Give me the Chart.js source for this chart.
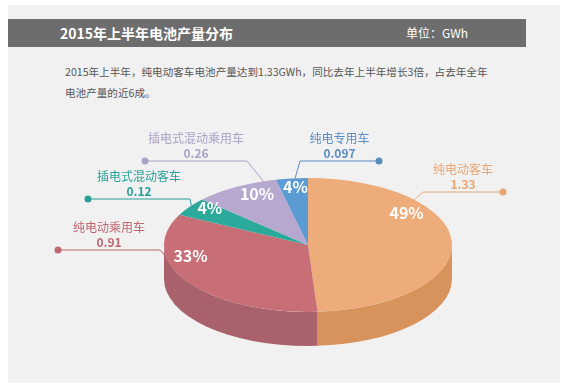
<!DOCTYPE html>
<html>
<head>
<meta charset="utf-8">
<script src="https://cdn.jsdelivr.net/npm/chart.js@4"></script>
<style>
  body { margin: 0; background: #fff; font-family: "Noto Sans CJK SC", "Noto Sans", sans-serif; }
  .panel { position: absolute; left: 8px; top: 5px; width: 552px; height: 378px; background: #f1f1f1; }
  .titlebar { position: absolute; left: 8px; top: 19px; width: 518px; height: 28px; background: #6d6d6d; color: #fff; }
  .titlebar .title { position: absolute; left: 52px; top: 0; line-height: 28px; font-size: 14px; font-weight: bold; }
  .titlebar .unit { position: absolute; right: 58px; top: 0; line-height: 28px; font-size: 12px; }
  .desc { position: absolute; left: 65px; top: 61px; font-size: 10.6px; line-height: 21px; color: #555; white-space: nowrap; }
  #chart { position: absolute; left: 0; top: 0; }
</style>
</head>
<body>
<div class="panel"></div>
<div class="titlebar">
  <span class="title">2015年上半年电池产量分布</span>
  <span class="unit">单位：GWh</span>
</div>
<div class="desc">2015年上半年，纯电动客车电池产量达到1.33GWh，同比去年上半年增长3倍，占去年全年<br>电池产量的近6成。</div>
<canvas id="chart" width="567" height="392"></canvas>

<script>
const categories = ["纯电动客车", "纯电动乘用车", "插电式混动客车", "插电式混动乘用车", "纯电专用车"];
const values = [1.33, 0.91, 0.12, 0.26, 0.097];
const valueLabels = ["1.33", "0.91", "0.12", "0.26", "0.097"];
const percentLabels = ["49%", "33%", "4%", "10%", "4%"];

const topColors = ["#edac79", "#c76e76", "#2ba99b", "#b7a8cf", "#5b9bd3"];
const sideColors = ["#d8925b", "#a9616b", "#218a7f", "#9788b1", "#4a80b0"];
const labelColors = ["#e8a676", "#c0666f", "#2aa198", "#aba2c6", "#5a8dc2"];

const SQUASH = 67 / 144; // ellipse height / width
const DEPTH = 34;
const FONT = "'Noto Sans CJK SC', 'Noto Sans', sans-serif";

// leader lines: t = where on the slice edge it starts, then elbow and dot
const callouts = [
  { t: 0.27, lineY: 192, elbowX: 423, dotX: 503 },
  { t: 0.69, lineY: 250, elbowX: 160, dotX: 58 },
  { t: 0.57, lineY: 199, elbowX: 190, dotX: 88 },
  { t: 0.85, lineY: 161, elbowX: 247, dotX: 145 },
  { t: 0.6, lineY: 161, elbowX: 300, dotX: 379 },
];
const pctNudge = [[-5, -20], [-31, -6], [-13, 0], [1, 1], [-1, 0]];

const pie3d = {
  id: "pie3d",
  beforeDatasetsDraw(chart) {
    const ctx = chart.ctx;
    const meta = chart.getDatasetMeta(0);
    const { x: cx, y: cy, outerRadius: r } = meta.data[0].getProps(["x", "y", "outerRadius"], true);
    const ry = r * SQUASH;

    // side wall, only the front half is visible
    meta.data.forEach((arc, i) => {
      const { startAngle, endAngle } = arc.getProps(["startAngle", "endAngle"], true);
      const a = Math.max(startAngle, 0);
      const b = Math.min(endAngle, Math.PI);
      if (b <= a) return;
      ctx.beginPath();
      ctx.ellipse(cx, cy, r, ry, 0, a, b);
      ctx.ellipse(cx, cy + DEPTH, r, ry, 0, b, a, true);
      ctx.closePath();
      ctx.fillStyle = sideColors[i];
      ctx.fill();
    });

    // squash the top face
    ctx.save();
    ctx.translate(cx, cy);
    ctx.scale(1, SQUASH);
    ctx.translate(-cx, -cy);
  },
  afterDatasetsDraw(chart) {
    const ctx = chart.ctx;
    ctx.restore();

    const meta = chart.getDatasetMeta(0);
    const { x: cx, y: cy, outerRadius: r } = meta.data[0].getProps(["x", "y", "outerRadius"], true);
    const ry = r * SQUASH;

    meta.data.forEach((arc, i) => {
      const { startAngle, endAngle } = arc.getProps(["startAngle", "endAngle"], true);

      // percent on the slice
      const mid = (startAngle + endAngle) / 2;
      const px = cx + 0.72 * r * Math.cos(mid) + pctNudge[i][0];
      const py = cy - 10 + 0.72 * ry * Math.sin(mid) + pctNudge[i][1];
      ctx.font = "bold 16px " + FONT;
      ctx.fillStyle = "#fff";
      ctx.textAlign = "center";
      ctx.textBaseline = "middle";
      ctx.fillText(percentLabels[i], px, py);

      // leader line + dot
      const c = callouts[i];
      const ang = startAngle + c.t * (endAngle - startAngle);
      const sx = cx + r * Math.cos(ang);
      const sy = cy + ry * Math.sin(ang);
      ctx.strokeStyle = labelColors[i];
      ctx.lineWidth = 1;
      ctx.beginPath();
      ctx.moveTo(sx, sy);
      ctx.lineTo(c.elbowX, c.lineY);
      ctx.lineTo(c.dotX, c.lineY);
      ctx.stroke();
      ctx.fillStyle = labelColors[i];
      ctx.beginPath();
      ctx.arc(c.dotX, c.lineY, 3.5, 0, Math.PI * 2);
      ctx.fill();

      // name and value above the line
      const lx = (c.elbowX + c.dotX) / 2;
      ctx.font = "12px " + FONT;
      ctx.fillText(categories[i], lx, c.lineY - 23);
      ctx.font = "bold 12px " + FONT;
      ctx.fillText(valueLabels[i], lx, c.lineY - 8);
    });
  },
};

new Chart(document.getElementById("chart"), {
  type: "pie",
  data: {
    labels: categories,
    datasets: [
      {
        data: values,
        backgroundColor: topColors,
        borderWidth: 0,
        hoverOffset: 0,
      },
    ],
  },
  options: {
    responsive: false,
    animation: false,
    events: [],
    rotation: 0,
    layout: { padding: { left: 164, right: 115, top: 101, bottom: 3 } },
    plugins: {
      legend: { display: false },
      tooltip: { enabled: false },
    },
  },
  plugins: [pie3d],
});
</script>
</body>
</html>
